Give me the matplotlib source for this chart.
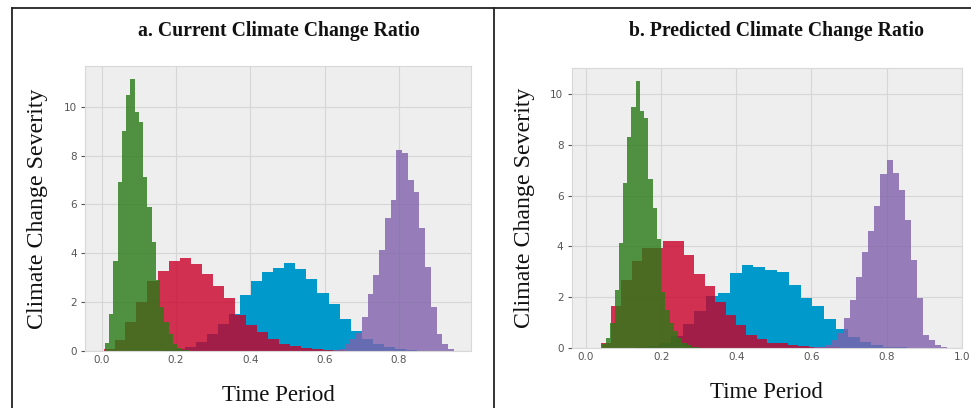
import numpy as np
import matplotlib
matplotlib.use('Agg')
import matplotlib.pyplot as plt
from matplotlib.lines import Line2D

# 每个分布 25 个 bin 的高度
green_a = [0.33, 1.53, 3.68, 6.93, 9.0, 10.48, 11.13, 9.8, 9.39, 7.13, 5.9, 4.47, 2.9,
           1.8, 1.2, 0.7, 0.3, 0.12, 0.05, 0.03, 0.015, 0.01, 0.005, 0.003, 0.002]
red_a = [0.1, 0.44, 1.19, 2.0, 2.87, 3.28, 3.69, 3.79, 3.55, 3.14, 2.66, 2.19, 1.46,
         1.05, 0.78, 0.51, 0.3, 0.2, 0.14, 0.1, 0.06, 0.04, 0.02, 0.01, 0.005]
blue_a = [0.003, 0.01, 0.03, 0.08, 0.17, 0.37, 0.71, 1.12, 1.53, 2.31, 2.87, 3.24, 3.40,
          3.62, 3.34, 2.93, 2.38, 1.94, 1.33, 0.80, 0.51, 0.3, 0.16, 0.07, 0.03]
purple_a = [0.003, 0.006, 0.01, 0.03, 0.1, 0.3, 0.5, 0.75, 1.39, 2.35, 3.10, 4.13, 5.43,
            6.2, 8.23, 8.11, 7.02, 6.52, 5.02, 3.44, 1.80, 0.68, 0.3, 0.1, 0.02]

green_b = [0.15, 0.4, 1.0, 2.3, 4.15, 6.5, 8.3, 9.5, 10.5, 9.35, 9.05, 6.65, 5.5,
           4.3, 2.2, 1.5, 1.0, 0.65, 0.39, 0.2, 0.1, 0.05, 0.02, 0.01, 0.005]
red_b = [0.2, 1.64, 2.69, 3.41, 3.94, 3.94, 4.2, 4.2, 3.65, 2.92, 2.45, 1.83, 1.31,
         0.92, 0.52, 0.37, 0.2, 0.2, 0.12, 0.08, 0.05, 0.03, 0.02, 0.01, 0.005]
blue_b = [0.003, 0.01, 0.03, 0.08, 0.2, 0.46, 0.95, 1.44, 2.03, 2.17, 2.95, 3.28, 3.19,
          3.06, 2.99, 2.49, 1.97, 1.64, 1.16, 0.75, 0.45, 0.25, 0.12, 0.05, 0.02]
purple_b = [0.003, 0.005, 0.01, 0.02, 0.05, 0.12, 0.3, 0.59, 1.2, 1.9, 2.8, 3.8, 4.6,
            5.6, 6.85, 7.41, 6.9, 6.23, 5.05, 3.45, 1.95, 0.5, 0.3, 0.13, 0.04]

# 每个分布的 (起点, bin 宽度)
bins_a = {'blue': (0.104, 0.0298), 'red': (0.005, 0.0295),
          'purple': (0.576, 0.0155), 'green': (0.009, 0.0114)}
bins_b = {'blue': (0.069, 0.0314), 'red': (0.039, 0.0277),
          'purple': (0.5585, 0.0161), 'green': (0.042, 0.0113)}

titles = ['a. Current Climate Change Ratio', 'b. Predicted Climate Change Ratio']
x_ticks_a = [0.0, 0.2, 0.4, 0.6, 0.8]
x_ticks_b = [0.0, 0.2, 0.4, 0.6, 0.8, 1.0]
y_ticks = [0, 2, 4, 6, 8, 10]

# 颜色与透明度（蓝色在最底层，不需要透明）
colors = {'blue': ('#0099cc', 1.0), 'red': ('#cb0028', 0.8),
          'purple': ('#8061ac', 0.8), 'green': ('#287a16', 0.8)}
serif = 'Liberation Serif'


def draw_panel(ax, data, bins, xlim, ylim, xticks):
    ax.set_facecolor('#eeeeee')
    for name in ['blue', 'red', 'purple', 'green']:
        start, width = bins[name]
        edges = start + width * np.arange(len(data[name]) + 1)
        c, a = colors[name]
        ax.stairs(data[name], edges, fill=True, color=c, alpha=a, linewidth=0)
    ax.set_xlim(*xlim)
    ax.set_ylim(*ylim)
    ax.set_xticks(xticks)
    ax.set_xticklabels(['%.1f' % t for t in xticks])
    ax.set_yticks(y_ticks)
    ax.grid(True, color='#d6d6d6', linewidth=0.8)
    ax.set_axisbelow(True)
    for s in ax.spines.values():
        s.set_color('#d8d8d8')
        s.set_linewidth(0.8)
    ax.tick_params(colors='#555555', labelsize=7.5, length=3, width=0.8,
                   direction='out', pad=3)
    ax.tick_params(axis='x', length=0)
    ax.set_xlabel('Time Period', family=serif, fontsize=16.5, color='#111111', labelpad=14)
    ax.set_ylabel('Climate Change Severity', family=serif, fontsize=17.2,
                  color='#111111', labelpad=11)


fig = plt.figure(figsize=(9.71, 4.08), dpi=100)
ax1 = fig.add_axes([0.0875, 0.1397, 0.3976, 0.6985])
ax2 = fig.add_axes([0.5888, 0.1471, 0.4016, 0.6862])

draw_panel(ax1, {'blue': blue_a, 'red': red_a, 'purple': purple_a, 'green': green_a},
           bins_a, (-0.045, 0.994), (0, 11.67), x_ticks_a)
draw_panel(ax2, {'blue': blue_b, 'red': red_b, 'purple': purple_b, 'green': green_b},
           bins_b, (-0.038, 1.0), (0, 11.03), x_ticks_b)

# 标题
fig.text(279 / 971, 1 - 31 / 408, titles[0], family=serif, weight='bold',
         fontsize=14.2, ha='center', va='center', color='#111111')
fig.text(776 / 971, 1 - 31 / 408, titles[1], family=serif, weight='bold',
         fontsize=14.2, ha='center', va='center', color='#111111')

# 外框线
top = 1 - 8 / 408
for xs, ys in [([12 / 971, 1.0], [top, top]),
               ([12 / 971, 12 / 971], [0, top]),
               ([494 / 971, 494 / 971], [0, top])]:
    fig.add_artist(Line2D(xs, ys, color='#222222', linewidth=1.3))

fig.savefig('out.png', dpi=100)
